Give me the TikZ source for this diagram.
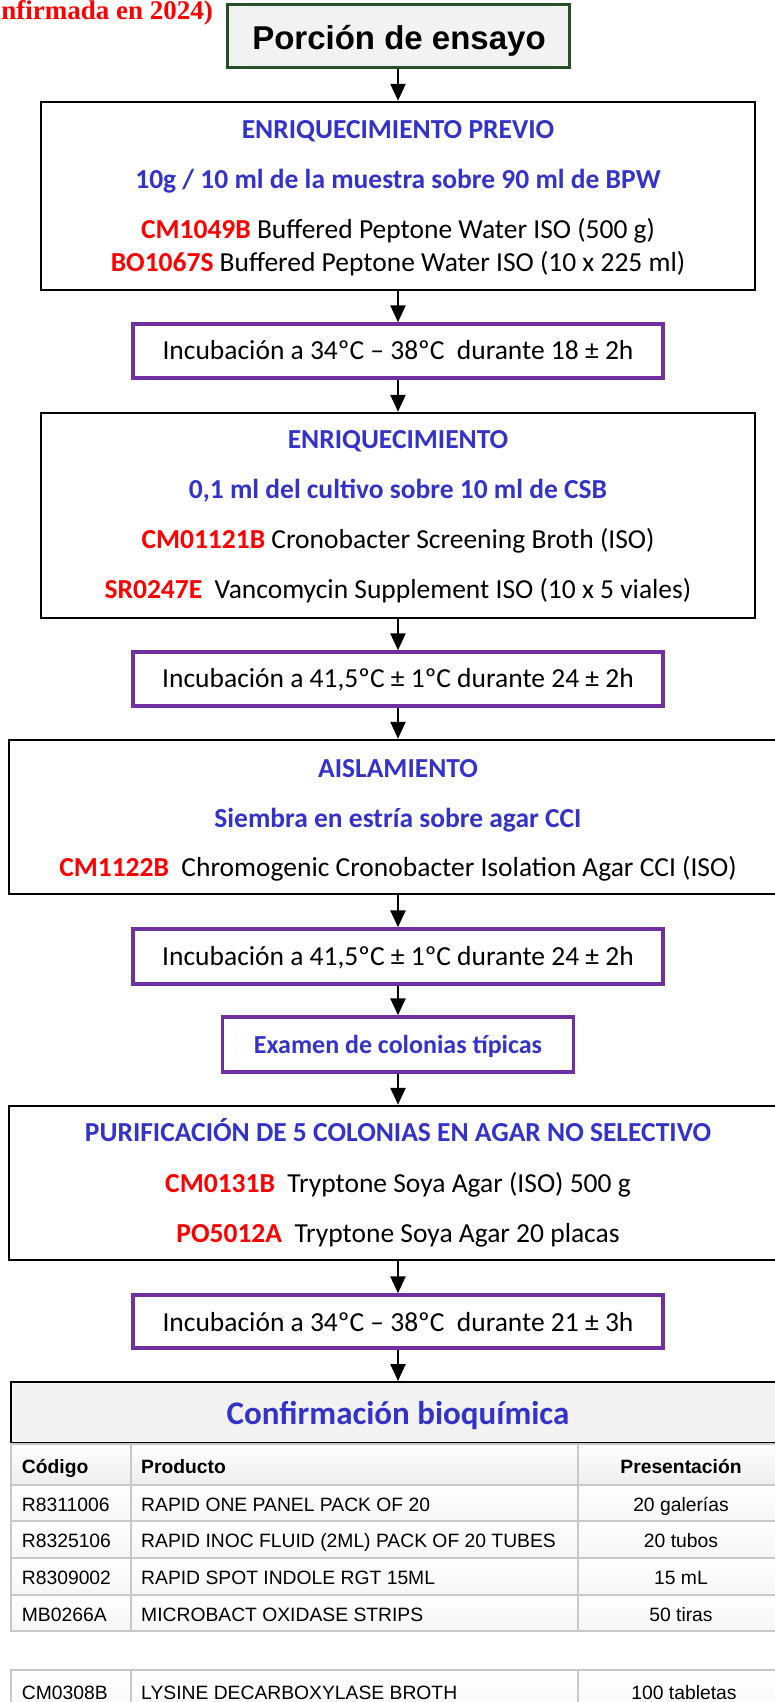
\documentclass[tikz,border=0pt]{standalone}
\usepackage{fontspec}
\setmainfont{Carlito}
\newfontfamily\arialf{Liberation Sans}
\newfontfamily\timesf{Liberation Serif}
\usetikzlibrary{arrows.meta}
\definecolor{tblue}{RGB}{51,51,204}
\definecolor{tred}{RGB}{255,0,0}
\definecolor{tpurple}{RGB}{112,48,160}
\definecolor{tgreen}{RGB}{40,80,40}
\definecolor{tgrid}{RGB}{200,200,200}
\definecolor{tfill}{RGB}{242,242,242}
\newcommand{\code}[1]{\textcolor{tred}{\textbf{#1}}}
\tikzset{
  box/.style={draw=black, line width=2.5pt, fill=white, inner sep=0pt},
  incbox/.style={draw=tpurple, line width=3.5pt, fill=white, inner sep=0pt, minimum width=530pt},
  body/.style={font=\fontsize{27.5}{33}\selectfont, inner sep=0pt, anchor=base},
  head/.style={font=\bfseries\fontsize{27.5}{33}\selectfont, text=tblue, inner sep=0pt, anchor=base},
  tab/.style={font=\arialf\fontsize{19.3}{23}\selectfont, inner sep=0pt},
  tabh/.style={font=\arialf\bfseries\fontsize{19.3}{23}\selectfont, inner sep=0pt},
  arr/.style={-{Triangle[width=15pt,length=17pt]}, line width=2.5pt, draw=black},
}
\begin{document}
\begin{tikzpicture}[x=1pt,y=-1pt]
\useasboundingbox (0,0) rectangle (775,1702);
\fill[white] (0,0) rectangle (775,1702);

% note at top left
\node[font=\timesf\bfseries\fontsize{27}{30}\selectfont, text=tred, anchor=base east, inner sep=0pt] (note) at (213,19.5) {nfirmada en 2024)};

% Porcion de ensayo
\node[draw=tgreen, line width=3pt, fill=tfill, inner sep=0pt, minimum width=342pt, minimum height=63pt] (top) at (398,36.5) {};
\node[font=\arialf\bfseries\fontsize{33}{38}\selectfont, inner sep=0pt, anchor=base] (topt) at (399,49.5) {Porción de ensayo};

% Box 1
\node[box, minimum width=714pt, minimum height=188pt] (b1) at (398,196) {};
\node[head] (b1a) at (398,138) {ENRIQUECIMIENTO PREVIO};
\node[head] (b1b) at (398,188) {10g / 10 ml de la muestra sobre 90 ml de BPW};
\node[body] (b1c) at (398,238) {\code{CM1049B} Buffered Peptone Water ISO (500 g)};
\node[body] (b1d) at (398,271) {\code{BO1067S} Buffered Peptone Water ISO (10 x 225 ml)};

% Incubation A
\node[incbox, minimum height=54pt] (iA) at (398,351) {};
\node[body] (iAt) at (398,359) {Incubación a 34ºC – 38ºC\ \ durante 18 ± 2h};

% Box 2
\node[box, minimum width=714pt, minimum height=205pt] (b2) at (398,515.5) {};
\node[head] (b2a) at (398,448.3) {ENRIQUECIMIENTO};
\node[head] (b2b) at (398,498.3) {0,1 ml del cultivo sobre 10 ml de CSB};
\node[body] (b2c) at (398,548.3) {\code{CM01121B} Cronobacter Screening Broth (ISO)};
\node[body] (b2d) at (398,598.3) {\code{SR0247E}\ \ Vancomycin Supplement ISO (10 x 5 viales)};

% Incubation B
\node[incbox, minimum height=54pt] (iB) at (398,679) {};
\node[body] (iBt) at (398,687) {Incubación a 41,5ºC ± 1ºC durante 24 ± 2h};

% Box 3
\node[box, minimum width=778pt, minimum height=154pt] (b3) at (398,817) {};
\node[head] (b3a) at (398,777.3) {AISLAMIENTO};
\node[head] (b3b) at (398,827.3) {Siembra en estría sobre agar CCI};
\node[body] (b3c) at (398,876) {\code{CM1122B}\ \ Chromogenic Cronobacter Isolation Agar CCI (ISO)};

% Incubation C
\node[incbox, minimum height=55pt] (iC) at (398,956.5) {};
\node[body] (iCt) at (398,965.7) {Incubación a 41,5ºC ± 1ºC durante 24 ± 2h};

% Examen
\node[incbox, minimum width=351pt, minimum height=55pt] (ex) at (398,1044.5) {};
\node[head, font=\bfseries\fontsize{26}{31}\selectfont] (ext) at (398,1053) {Examen de colonias típicas};

% Box 4
\node[box, minimum width=778pt, minimum height=154pt] (b4) at (398,1183) {};
\node[head] (b4a) at (398,1141.7) {PURIFICACIÓN DE 5 COLONIAS EN AGAR NO SELECTIVO};
\node[body] (b4b) at (398,1192.7) {\code{CM0131B}\ \ Tryptone Soya Agar (ISO) 500 g};
\node[body] (b4c) at (398,1242.3) {\code{PO5012A}\ \ Tryptone Soya Agar 20 placas};

% Incubation D
\node[incbox, minimum height=53pt] (iD) at (398,1321.5) {};
\node[body] (iDt) at (398,1331) {Incubación a 34ºC – 38ºC\ \ durante 21 ± 3h};

% Confirmacion header
\node[draw=black, line width=2pt, fill=tfill, inner sep=0pt, minimum width=779pt, minimum height=61pt] (hdr) at (400.5,1412.5) {};
\node[head, font=\bfseries\fontsize{33}{38}\selectfont] (hdrt) at (398,1424) {Confirmación bioquímica};

% Arrows
\draw[arr] (top.south) -- (b1.north);
\draw[arr] (b1.south) -- (iA.north);
\draw[arr] (iA.south) -- (b2.north);
\draw[arr] (b2.south) -- (iB.north);
\draw[arr] (iB.south) -- (b3.north);
\draw[arr] (b3.south) -- (iC.north);
\draw[arr] (iC.south) -- (ex.north);
\draw[arr] (ex.south) -- (b4.north);
\draw[arr] (b4.south) -- (iD.north);
\draw[arr] (iD.south) -- (iD.south |- hdr.north);

% Table 1
\shade[top color=white, bottom color=gray!14] (11,1444) rectangle (786,1484.5);
\foreach \t/\b in {1484.5/1521,1521/1558,1558/1594.5,1594.5/1631}{
  \shade[top color=white, bottom color=gray!7] (11,\t) rectangle (786,\b);
}
\draw[tgrid, line width=2pt] (11,1444) rectangle (786,1631);
\foreach \yy in {1484.5,1521,1558,1594.5}{
  \draw[tgrid, line width=2pt] (11,\yy) -- (786,\yy);
}
\draw[tgrid, line width=2pt] (131,1444) -- (131,1631);
\draw[tgrid, line width=2pt] (578,1444) -- (578,1631);

\node[tabh, anchor=base west] (h1) at (21.7,1473.5) {Código};
\node[tabh, anchor=base west] (h2) at (141,1473.5) {Producto};
\node[tabh, anchor=base] (h3) at (681,1473.5) {Presentación};

\node[tab, anchor=base west] (r1a) at (21.7,1511) {R8311006};
\node[tab, anchor=base west] (r1b) at (141,1511) {RAPID ONE PANEL PACK OF 20};
\node[tab, anchor=base] (r1c) at (681,1511) {20 galerías};

\node[tab, anchor=base west] (r2a) at (21.7,1547.5) {R8325106};
\node[tab, anchor=base west] (r2b) at (141,1547.5) {RAPID INOC FLUID (2ML) PACK OF 20 TUBES};
\node[tab, anchor=base] (r2c) at (681,1547.5) {20 tubos};

\node[tab, anchor=base west] (r3a) at (21.7,1584.5) {R8309002};
\node[tab, anchor=base west] (r3b) at (141,1584.5) {RAPID SPOT INDOLE RGT 15ML};
\node[tab, anchor=base] (r3c) at (681,1584.5) {15 mL};

\node[tab, anchor=base west] (r4a) at (21.7,1621) {MB0266A};
\node[tab, anchor=base west] (r4b) at (141,1621) {MICROBACT OXIDASE STRIPS};
\node[tab, anchor=base] (r4c) at (681,1621) {50 tiras};

% Table 2
\shade[top color=white, bottom color=gray!7] (11,1670) rectangle (786,1730);
\draw[tgrid, line width=2pt] (11,1670) rectangle (786,1730);
\draw[tgrid, line width=2pt] (131,1670) -- (131,1730);
\draw[tgrid, line width=2pt] (578,1670) -- (578,1730);
\node[tab, anchor=base west] (s1a) at (21.7,1699) {CM0308B};
\node[tab, anchor=base west] (s1b) at (141,1699) {LYSINE DECARBOXYLASE BROTH};
\node[tab, anchor=base] (s1c) at (684,1699) {100 tabletas};
\end{tikzpicture}
\end{document}
